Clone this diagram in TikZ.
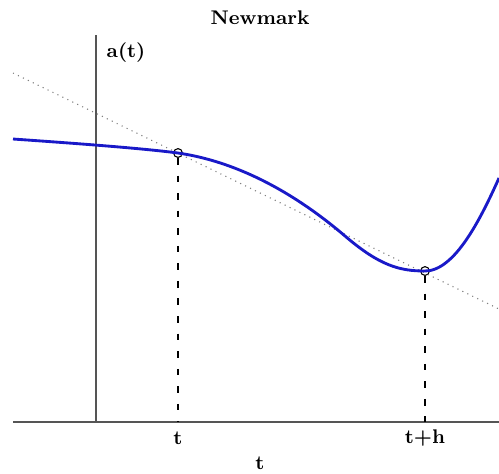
\documentclass[tikz,border=0pt]{standalone}
\usepackage{amsmath}
\usepackage{tikz}
\usepackage{xcolor}
\definecolor{axisgray}{RGB}{85,85,85}
\definecolor{curveblue}{RGB}{25,25,200}

\begin{document}
\begin{tikzpicture}[
        x=0.016cm, y=-0.016cm,
        axis/.style={draw=axisgray, line width=1.2pt},
        curve/.style={draw=curveblue, line width=1.3pt},
        guide/.style={line width=0.5pt, dash pattern=on 3pt off 5pt},
        secant/.style={dotted, draw=gray, line width=0.5pt},
        pnt/.style={circle, draw, line width=0.5pt, inner sep=0pt, minimum size=4pt},
        lbl/.style={font=\small\bfseries, inner sep=1pt}
    ]
        \useasboundingbox (0,0) rectangle (499,473);
        \node[lbl] (title) at (260,18) {Newmark};

        % axes
        \coordinate (xl) at (13,422);
        \coordinate (xr) at (499,422);
        \coordinate (yb) at (96,422);
        \coordinate (yt) at (96,35);
        \draw[axis] (xl) -- (xr);
        \draw[axis] (yb) -- (yt);
        \node[lbl, anchor=west] (ylab) at (104,53) {a(t)};
        \node[lbl] (xlab) at (260,463) {t};

        % points t and t+h
        \node[pnt] (p1) at (178,153) {};
        \node[pnt] (p2) at (425,271) {};
        \coordinate (f1) at (178,422);
        \coordinate (f2) at (425,422);
        \node[lbl] (t1) at (178,438) {t};
        \node[lbl] (t2) at (425,438) {t+h};

        \coordinate (sl) at (13,73);
        \coordinate (sr) at (499,309);
        \draw[secant] (sl) -- (sr);

        % a(t)
        \coordinate (c0) at (13,139);
        \coordinate (ci) at (345,236);
        \coordinate (c3) at (499,178);
        \draw[curve] (c0) .. controls (70,143) and (140,148) .. (p1.center)
            .. controls (233,161) and (290,189) .. (ci)
            .. controls (380,266) and (400,271) .. (p2.center)
            .. controls (455,271) and (481,218) .. (c3);

        \draw[guide] (p1) -- (f1);
        \draw[guide] (p2) -- (f2);
    \end{tikzpicture}
\end{document}
